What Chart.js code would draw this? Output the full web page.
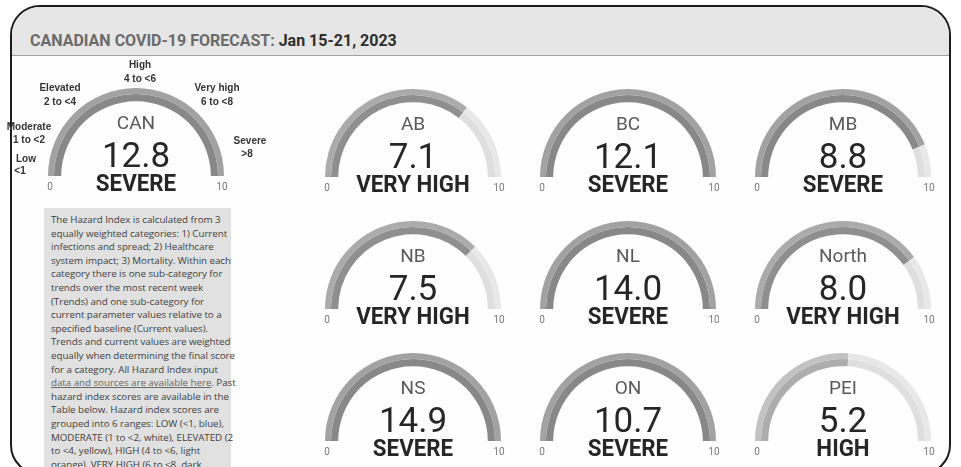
<!DOCTYPE html>
<html><head><meta charset="utf-8">
<script src="https://cdn.jsdelivr.net/npm/chart.js@4.4.0/dist/chart.umd.min.js"></script>
<style>
html,body{margin:0;padding:0;background:#fff;}
body{width:961px;height:467px;overflow:hidden;position:relative;font-family:Roboto,sans-serif;}
#frame{position:absolute;left:10px;top:5px;width:937px;height:466px;border:2px solid #1c1c1c;border-radius:30px;overflow:hidden;background:#fefefe;}
#bar{position:absolute;left:0;top:0;right:0;height:48px;background:#e6e6e6;border-bottom:1px solid #a0a0a0;}
#title{position:absolute;left:30px;top:33px;font:700 16px Roboto,sans-serif;white-space:nowrap;line-height:16px;}
#title .a{color:#6b6b6b}
#title .b{color:#2e2e2e}
#info{position:absolute;left:44px;top:208px;width:187px;height:270px;background:#e1e1e1;}
#info p{margin:0;padding:5px 0 0 7px;font:9.8px "Open Sans",sans-serif;line-height:13.6px;color:#3f3f3f;white-space:nowrap;letter-spacing:-0.05px;}
#info u{color:#666;}
canvas.g{position:absolute;}
</style>
</head><body>
<div id="frame"><div id="bar"></div></div>
<div id="title"><span class="a">CANADIAN COVID-19 FORECAST:</span> <span class="b">Jan 15-21, 2023</span></div>
<div id="info"><p>The Hazard Index is calculated from 3<br>equally weighted categories: 1) Current<br>infections and spread; 2) Healthcare<br>system impact; 3) Mortality. Within each<br>category there is one sub-category for<br>trends over the most recent week<br>(Trends) and one sub-category for<br>current parameter values relative to a<br>specified baseline (Current values).<br>Trends and current values are weighted<br>equally when determining the final score<br>for a category. All Hazard Index input<br><u>data and sources are available here</u>. Past<br>hazard index scores are available in the<br>Table below. Hazard index scores are<br>grouped into 6 ranges: LOW (&lt;1, blue),<br>MODERATE (1 to &lt;2, white), ELEVATED (2<br>to &lt;4, yellow), HIGH (4 to &lt;6, light<br>orange), VERY HIGH (6 to &lt;8, dark</p></div>
<script>
// ---- data ----
const regions = ['CAN','AB','BC','MB','NB','NL','North','NS','ON','PEI'];
const scores = [12.8, 7.1, 12.1, 8.8, 7.5, 14.0, 8.0, 14.9, 10.7, 5.2];
const levels = ['SEVERE','VERY HIGH','SEVERE','SEVERE','VERY HIGH','SEVERE','VERY HIGH','SEVERE','SEVERE','HIGH'];
const scaleMin = 0;
const scaleMax = 10;
const bandNames = ['Low','Moderate','Elevated','High','Very high','Severe'];
const bandRanges = ['<1','1 to <2','2 to <4','4 to <6','6 to <8','>8'];

// ---- layout / style ----
const R = 88;
const centers = [[136,176],[413,177],[628,177],[843,177],[413,309],[628,309],[843,309],[413,441],[628,441],[843,441]];
const levelColors = {
  'SEVERE':   ['#a2a2a2','#888888'],
  'VERY HIGH':['#ababab','#8f8f8f'],
  'HIGH':     ['#c2c2c2','#adadad']
};
const restColors = ['#e8e8e8','#dfdfdf'];
// band label offsets relative to gauge centre: [dx1,dy1,dx2,dy2]
const bandPos = [[-110,-17,-116,-5],[-107,-49,-107,-36],[-76,-88,-76,-74],[4,-111,4,-97],[81,-88,81,-74],[114,-35,111,-22]];

const gaugeText = {
  id:'gaugeText',
  afterDraw(chart, args, o){
    const arc = chart.getDatasetMeta(0).data[0];
    const x = arc.x, y = arc.y, r = arc.outerRadius;
    const ctx = chart.ctx;
    ctx.save();
    ctx.textAlign='center'; ctx.textBaseline='alphabetic';
    ctx.fillStyle='#595959'; ctx.font='400 19px Roboto';
    ctx.fillText(o.name, x, y-47);
    ctx.fillStyle='#262626'; ctx.font='400 35px Roboto';
    ctx.fillText(o.value.toFixed(1), x, y-9.5);
    ctx.save(); ctx.translate(x, y+14.5); ctx.scale(0.93,1);
    ctx.font='700 24px Roboto'; ctx.fillText(o.level, 0, 0); ctx.restore();
    ctx.fillStyle='#777'; ctx.font='400 10px Roboto';
    ctx.fillText(String(scaleMin), x-r+2, y+13.5);
    ctx.fillText(String(scaleMax), x+r-2, y+13.5);
    if (o.bands){
      ctx.fillStyle='#333'; ctx.font='700 10px "Liberation Sans"'; ctx.textBaseline='middle';
      bandNames.forEach((n,i)=>{
        const p = bandPos[i];
        ctx.fillText(n, x+p[0], y+p[1]);
        ctx.fillText(bandRanges[i], x+p[2], y+p[3]);
      });
    }
    ctx.restore();
  }
};

regions.forEach((name,i)=>{
  const [cx,cy] = centers[i];
  const big = i===0;
  const pad = big ? {left:48,right:56,top:33,bottom:24} : {left:10,right:14,top:4,bottom:26};
  const w = pad.left + 2*R + pad.right, h = pad.top + R + pad.bottom;
  const cv = document.createElement('canvas');
  cv.className='g'; cv.width=w; cv.height=h;
  cv.style.left=(cx-pad.left-R)+'px'; cv.style.top=(cy-pad.top-R)+'px';
  cv.style.width=w+'px'; cv.style.height=h+'px';
  document.body.appendChild(cv);
  const v = Math.min(Math.max(scores[i],scaleMin),scaleMax);
  const cols = levelColors[levels[i]];
  new Chart(cv,{
    type:'doughnut',
    data:{labels:['score','rest'],datasets:[
      {data:[v-scaleMin, scaleMax-v], backgroundColor:[cols[0],restColors[0]], borderWidth:0, weight:1},
      {data:[v-scaleMin, scaleMax-v], backgroundColor:[cols[1],restColors[1]], borderWidth:0, weight:1.2}
    ]},
    options:{
      responsive:false, animation:false, events:[], devicePixelRatio:1,
      rotation:-90, circumference:180, cutout:'85%',
      layout:{padding:pad},
      plugins:{legend:{display:false},tooltip:{enabled:false},
        gaugeText:{name:name, value:scores[i], level:levels[i], bands:big}}
    },
    plugins:[gaugeText]
  });
});
</script>
</body></html>
